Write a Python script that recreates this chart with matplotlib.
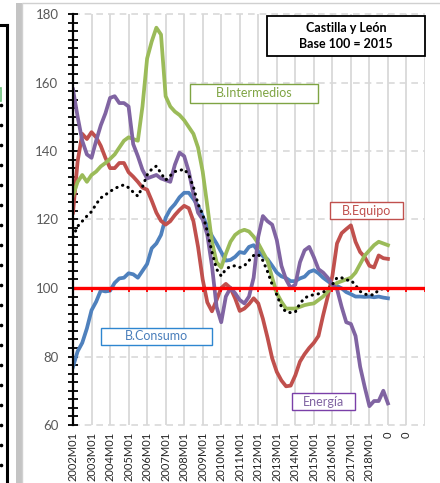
#!/usr/bin/env python3
# Indices de precios industriales por destino economico, Castilla y Leon (base 2015).
import matplotlib
matplotlib.use("Agg")
import matplotlib.pyplot as plt
from matplotlib.patches import Rectangle
import numpy as np

plt.rcParams["font.family"] = ["Lato", "DejaVu Sans"]

AZUL = "#4F81BD"   # B.Consumo
VERM = "#C0504D"   # B.Equipo
VERDE = "#9BBB59"  # B.Intermedios
ROXO = "#8064A2"   # Energia

# meses desde 2002M01, un punto por trimestre
meses = np.arange(0, 205, 3)
etiquetas = ["%dM01" % a for a in range(2002, 2019)] + ["0", "0"]

consumo = [77, 81.5, 84, 88.2, 93.5, 96, 99.3, 99, 99.2, 101.5,
           102.8, 103, 104.3, 104, 103, 105, 107, 111.6, 113, 115.5,
           120.5, 123, 124.5, 126.5, 127.8, 127.8, 126, 124, 121, 118,
           115.2, 113, 110.5, 108, 108.2, 109.1, 110.5, 110.2, 112, 112.5,
           110.7, 109.3, 108.4, 106.5, 104.5, 103.4, 102.9, 102, 102, 102.8,
           103.3, 104.7, 105.2, 104.3, 103, 102, 101, 100.6, 99.9, 98.8,
           98.2, 97.5, 97.5, 97.4, 97.5, 97.3, 97.5, 97.2, 97]
equipo = [122, 137, 145, 143.5, 145.5, 144, 141.5, 138, 135, 135,
          136.5, 136.5, 133.8, 132.5, 131, 129.3, 128.7, 125.5, 122, 119.6,
          118.5, 119.5, 121.3, 122.8, 124, 123.3, 119.5, 112, 102.5, 95.8,
          93.2, 96.5, 100, 101.2, 100, 97, 93.3, 94, 95.3, 97,
          95.5, 91, 85.5, 79.5, 75.5, 73, 71.3, 71.5, 74.5, 78.5,
          80.7, 82.5, 84, 86, 92, 97.5, 103.5, 113, 116, 117.2,
          118.3, 113.5, 110.5, 109, 106.5, 106, 109.5, 108.7, 108.5]
intermedios = [127, 131, 133, 131, 133, 134, 135.5, 136.5, 137.7, 139,
               141, 143, 144, 143.5, 143, 153, 167, 172, 176, 174,
               156, 153, 151.5, 150.5, 149, 147, 145, 141, 134, 124,
               113.5, 107.5, 106, 110, 113.5, 115.5, 116.5, 117, 116.5, 115,
               113, 110.5, 108, 103, 98.5, 96, 94, 94, 94, 94.5,
               95, 95.3, 95.5, 96.5, 97.5, 99, 100.5, 101.5, 102, 102.5,
               103, 104.5, 107, 109.5, 111, 112.5, 113.5, 113, 112.5]
energia = [158, 150, 143, 139, 138, 143, 147.5, 151, 155.5, 156,
           154, 154, 153, 142, 138.5, 134.5, 132, 132.5, 133, 132,
           131.5, 131, 136, 139.5, 138.5, 134, 127.5, 122, 120, 115.5,
           106.5, 94.5, 90, 97.5, 100, 98.5, 96.5, 95.5, 97.5, 103,
           115, 121, 119.5, 118.5, 114, 106.5, 102.5, 100, 101, 107.5,
           111, 112, 109, 105.5, 104.5, 103, 101, 99.7, 94.5, 90,
           89.5, 86, 77, 71, 65.5, 67, 67, 70, 66.3]
general = [115, 118, 119.5, 121, 122.3, 124.5, 126.3, 127.2, 128.2, 129,
           129.7, 130.1, 129.3, 128, 126.8, 129.5, 133, 134.7, 135.6, 133.5,
           131.5, 132.8, 134, 134.3, 134.7, 133, 129.5, 124.5, 121.5, 116.5,
           110.5, 105.5, 103.5, 105.5, 106.3, 106.5, 106, 106.5, 108, 109.5,
           109.8, 108, 104.8, 101, 98, 94.5, 93, 92.8, 93, 95.5,
           97, 97.8, 98, 98.3, 98.8, 99.6, 101, 103, 103, 102.3,
           102.3, 100.8, 99, 98.2, 98, 98, 99.5, 99.8, 99.5]

W, H = 440, 483


def caixa(fig, x0, y0, x1, y1, texto, borda, cor, negrito=False, lw=1.0):
    # caja con texto en coordenadas de pixel de la figura
    fig.add_artist(Rectangle((x0 / W, 1 - y1 / H), (x1 - x0) / W, (y1 - y0) / H,
                             transform=fig.transFigure, facecolor="white",
                             edgecolor=borda, lw=lw, zorder=5))
    fig.text((x0 + x1) / 2 / W, 1 - (y0 + y1) / 2 / H, texto, ha="center", va="center",
             color=cor, fontsize=9, fontweight="bold" if negrito else "normal",
             linespacing=1.45, zorder=6)


fig = plt.figure(figsize=(W / 100, H / 100), dpi=100)

# restos del grafico vecino y marco del panel
fig.add_artist(Rectangle((16 / W, 0), 6 / W, 1 - 3 / H, transform=fig.transFigure,
                         facecolor="#C4C4C4", edgecolor="none", zorder=0))
fig.add_artist(Rectangle((22 / W, -0.01), 1, 1 - 3 / H + 0.01, transform=fig.transFigure,
                         facecolor="white", edgecolor="#D0D0D0", lw=1, zorder=0))
fig.add_artist(plt.Line2D([6.5 / W, 6.5 / W], [0, 1 - 25 / H], transform=fig.transFigure,
                          color="black", lw=2.2))
fig.add_artist(plt.Line2D([0, 6.5 / W], [1 - 25 / H, 1 - 25 / H], transform=fig.transFigure,
                          color="black", lw=2.2))
fig.add_artist(Rectangle((-0.01, 1 - 101 / H), 5 / W, 13 / H, transform=fig.transFigure,
                         facecolor="white", edgecolor="#6CBF7A", lw=1.2))
for yy in np.arange(105, 470, 20):
    fig.add_artist(plt.Line2D([0.5 / W], [1 - yy / H], transform=fig.transFigure,
                              marker="o", ms=1.6, color="black", lw=0))

ax = fig.add_axes([73 / W, 1 - 425 / H, (425 - 73) / W, (425 - 14) / H])
ax.set_facecolor("none")

ax.plot(meses, consumo, color=AZUL, lw=2.7, zorder=3)
ax.plot(meses, equipo, color=VERM, lw=2.7, zorder=3)
ax.plot(meses, intermedios, color=VERDE, lw=2.7, zorder=3)
ax.plot(meses, energia, color=ROXO, lw=2.7, zorder=3)
ax.plot(meses, general, color="black", lw=2.2, ls=(0, (0.1, 1.9)),
        dash_capstyle="round", zorder=4)

# eje de categorias cruzando en 100
xt = np.arange(0, 229, 12)
ax.axhline(100, color="#FF0000", lw=2.4, zorder=5)
ax.vlines(xt[1:], 98.9, 100, color="#FF0000", lw=1.3, zorder=5)

ax.set_xlim(0, 228)
ax.set_ylim(60, 180)
ax.set_xticks(xt)
ax.set_xticklabels(etiquetas + [""], rotation=90, fontsize=8, color="#262626")
ax.tick_params(axis="x", length=0, pad=5)
ax.set_yticks(np.arange(60, 181, 20))
ax.set_yticks(np.arange(60, 180, 2.5), minor=True)
ax.tick_params(axis="y", which="both", direction="inout", length=7, width=1.3,
               color="black", labelsize=9.5, labelcolor="#595959", pad=7)

for v in xt[1:]:
    ax.axvline(v, color="#D9D9D9", lw=1.3, zorder=1)
for v in np.arange(60, 181, 20):
    ax.axhline(v, color="#D9D9D9", lw=1.2, ls=(0, (4, 3)), zorder=1, clip_on=False)

for s in ["top", "right", "bottom"]:
    ax.spines[s].set_visible(False)
ax.spines["left"].set_linewidth(1.6)
ax.spines["left"].set_zorder(6)

caixa(fig, 267, 16, 425, 56, "Castilla y León\nBase 100 = 2015", "black", "black",
      negrito=True, lw=1.3)
caixa(fig, 190, 84, 318, 103, "B.Intermedios", "#7FA443", "#7FA443")
caixa(fig, 330, 202, 403, 219, "B.Equipo", "#C0504D", "#C0504D")
caixa(fig, 101, 328, 212, 345, "B.Consumo", "#2E86D0", "#4A7EBB")
caixa(fig, 292, 393, 355, 410, "Energía", "#7A3FA8", "#8064A2")

fig.savefig("out.png", dpi=100)
